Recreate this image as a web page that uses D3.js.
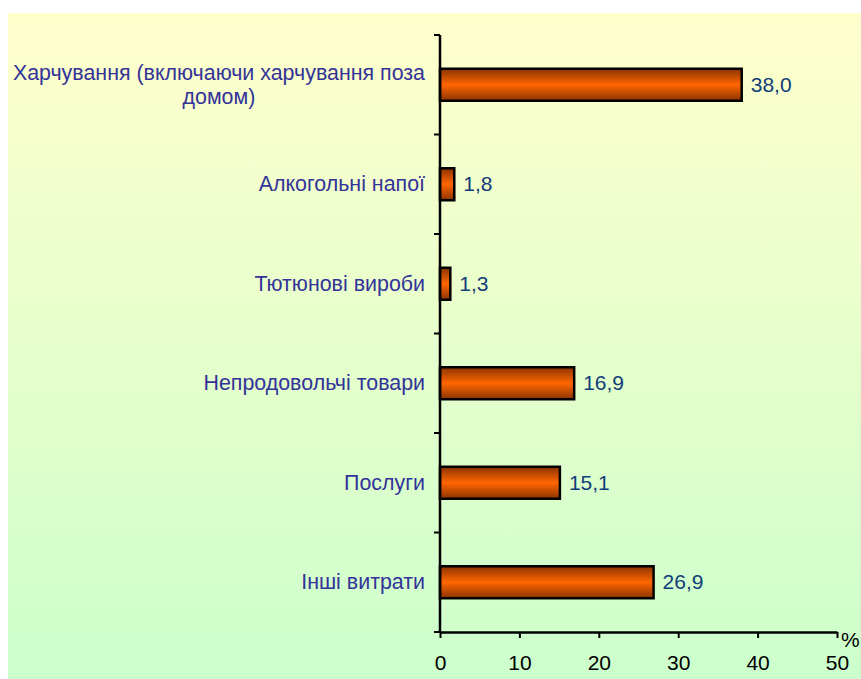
<html>
<head>
<script src="https://d3js.org/d3.v7.min.js"></script>
<style>
  body { margin: 0; background: #fff; }
  svg { display: block; }
  text { font-family: "Liberation Sans", Arial, sans-serif; }
</style>
</head>
<body>
<svg id="chart" width="861" height="679"></svg>
<script>
// data
var categories = [
  ["Харчування (включаючи харчування поза", "домом)"],
  ["Алкогольні напої"],
  ["Тютюнові вироби"],
  ["Непродовольчі товари"],
  ["Послуги"],
  ["Інші витрати"]
];
var values = [38.0, 1.8, 1.3, 16.9, 15.1, 26.9];
var xTicks = [0, 10, 20, 30, 40, 50];

var svg = d3.select("#chart");
var defs = svg.append("defs");

var bg = defs.append("linearGradient").attr("id", "bg")
  .attr("x1", 0).attr("y1", 0).attr("x2", 0).attr("y2", 1);
bg.append("stop").attr("offset", "0%").attr("stop-color", "#ffffcc");
bg.append("stop").attr("offset", "100%").attr("stop-color", "#ccffcc");

var barG = defs.append("linearGradient").attr("id", "bar")
  .attr("x1", 0).attr("y1", 0).attr("x2", 0).attr("y2", 1);
barG.append("stop").attr("offset", "0%").attr("stop-color", "#8a3300");
barG.append("stop").attr("offset", "50%").attr("stop-color", "#ff6600");
barG.append("stop").attr("offset", "100%").attr("stop-color", "#8a3300");

svg.append("rect").attr("x", 8).attr("y", 13).attr("width", 853).attr("height", 666)
  .attr("fill", "url(#bg)");

var plotL = 440, plotR = 837, plotT = 35, plotB = 632;
var fs = 21, catFs = 21.4;

var x = d3.scaleLinear().domain([0, 50]).range([plotL, plotR]);
var y = d3.scaleBand().domain(d3.range(values.length)).range([plotT, plotB]);

// bars
svg.selectAll("rect.bar")
  .data(values)
  .enter()
  .append("rect")
    .attr("class", "bar")
    .attr("x", x(0))
    .attr("y", function(d, i){ return y(i) + y.bandwidth() / 2 - 16; })
    .attr("width", function(d){ return x(d) - x(0); })
    .attr("height", 32)
    .attr("fill", "url(#bar)")
    .attr("stroke", "#000")
    .attr("stroke-width", 2.5);

// value labels
svg.selectAll("text.val")
  .data(values)
  .enter()
  .append("text")
    .attr("class", "val")
    .attr("x", function(d){ return x(d) + 9; })
    .attr("y", function(d, i){ return y(i) + y.bandwidth() / 2 + 7; })
    .attr("font-size", fs)
    .attr("fill", "#113d78")
    .text(function(d){ return d.toFixed(1).replace(".", ","); });

// y axis with ticks between categories
var yAxis = svg.append("g");
yAxis.append("line").attr("x1", plotL).attr("x2", plotL).attr("y1", plotT).attr("y2", plotB)
  .attr("stroke", "#000").attr("stroke-width", 2.5);
yAxis.selectAll("line.yt")
  .data(d3.range(values.length + 1))
  .enter()
  .append("line")
    .attr("class", "yt")
    .attr("x1", plotL - 6).attr("x2", plotL)
    .attr("y1", function(i){ return plotT + i * y.step(); })
    .attr("y2", function(i){ return plotT + i * y.step(); })
    .attr("stroke", "#000").attr("stroke-width", 2);

// x axis
var xAxis = svg.append("g").attr("transform", "translate(0," + plotB + ")")
  .call(d3.axisBottom(x).tickValues(xTicks).tickSize(6).tickSizeOuter(0).tickFormat(d3.format("d")));
xAxis.select(".domain").attr("stroke", "#000").attr("stroke-width", 2.5);
xAxis.selectAll(".tick line").attr("stroke", "#000").attr("stroke-width", 2);
xAxis.selectAll(".tick text").attr("font-size", fs).attr("fill", "#000")
  .attr("y", 38).attr("dy", null).attr("font-family", "Liberation Sans, Arial, sans-serif");

svg.append("text").attr("x", 841).attr("y", 647).attr("font-size", fs).attr("fill", "#000").text("%");

// category labels
categories.forEach(function(lines, i){
  var cy = y(i) + y.bandwidth() / 2;
  var lh = 24;
  var g = svg.append("g");
  var t0 = g.append("text")
    .attr("x", 425)
    .attr("y", cy + 7 - (lines.length - 1) * lh / 2)
    .attr("text-anchor", "end")
    .attr("font-size", catFs)
    .attr("fill", "#333399")
    .text(lines[0]);
  if (lines.length > 1) {
    var w = t0.node().getComputedTextLength();
    g.append("text")
      .attr("x", 425 - w / 2)
      .attr("y", cy + 7 + lh / 2)
      .attr("text-anchor", "middle")
      .attr("font-size", catFs)
      .attr("fill", "#333399")
      .text(lines[1]);
  }
});
</script>
</body>
</html>
